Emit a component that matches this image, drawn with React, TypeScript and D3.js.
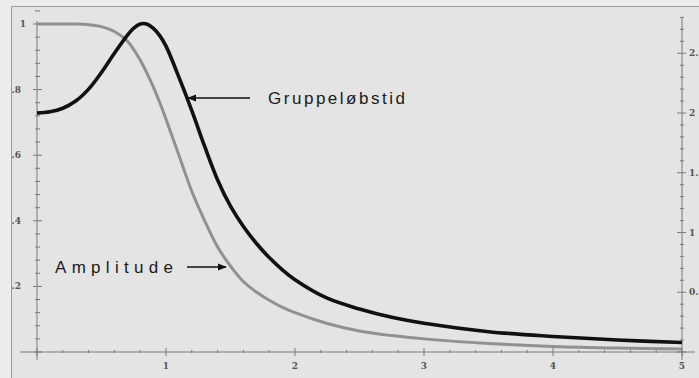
import * as d3 from "d3";

const W = 699;
const H = 378;

// frequency samples (x axis, normalized)
const freq = [0, 0.1, 0.2, 0.3, 0.4, 0.5, 0.6, 0.7, 0.75, 0.8, 0.85, 0.9, 0.95, 1.0, 1.1, 1.2, 1.3, 1.4, 1.5, 1.6, 1.7, 1.8, 1.9, 2.0, 2.25, 2.5, 2.75, 3.0, 3.5, 4.0, 4.5, 5.0];
// amplitude, left axis
const amplitude = [1.0, 1.0, 1.0, 1.0, 0.998, 0.992, 0.977, 0.948, 0.922, 0.89, 0.852, 0.81, 0.762, 0.71, 0.6, 0.49, 0.4, 0.32, 0.262, 0.215, 0.183, 0.158, 0.137, 0.12, 0.087, 0.064, 0.05, 0.04, 0.026, 0.017, 0.012, 0.009];
// group delay, right axis
const groupDelay = [2.0, 2.01, 2.04, 2.1, 2.2, 2.34, 2.5, 2.65, 2.71, 2.745, 2.745, 2.71, 2.65, 2.56, 2.3, 2.02, 1.72, 1.44, 1.22, 1.05, 0.91, 0.79, 0.69, 0.605, 0.45, 0.36, 0.29, 0.24, 0.17, 0.13, 0.1, 0.08];

const xTicks = [1, 2, 3, 4, 5];
const leftTicks = [0.2, 0.4, 0.6, 0.8, 1];
const rightTicks = [0.5, 1, 1.5, 2, 2.5];

const labelAmp = "Amplitude";
const labelDelay = "Gruppeløbstid";

export default function App() {
  const x = d3.scaleLinear().domain([0, 5]).range([37, 682]);
  const yL = d3.scaleLinear().domain([0, 1]).range([352, 24]);
  const yR = d3.scaleLinear().domain([0, 2.8]).range([352, 352 - 2.8 * 119.5]);

  const pts = freq.map((f, i) => ({ f, a: amplitude[i], g: groupDelay[i] }));
  const ampLine = d3
    .line<any>()
    .x((d) => x(d.f))
    .y((d) => yL(d.a))
    .curve(d3.curveCatmullRom.alpha(0.5));
  const delayLine = d3
    .line<any>()
    .x((d) => x(d.f))
    .y((d) => yR(d.g))
    .curve(d3.curveCatmullRom.alpha(0.5));

  const xMinor = d3.range(0, 5.001, 0.2);
  const lMinor = d3.range(0, 1.041, 0.04);
  const rMinor = d3.range(0, 2.81, 0.1);
  const axisCol = "#7a7a7a";
  const tickFont = { fontFamily: "DejaVu Serif", fontSize: 9, fontWeight: "bold", fill: "#555" };
  const isInt = (v: number) => Math.abs(v - Math.round(v)) < 1e-6;

  return (
    <svg width={W} height={H} style={{ position: "absolute", left: 0, top: 0 }}>
      <defs>
        <clipPath id="frame">
          <rect x={12} y={7} width={W - 12} height={H - 7} />
        </clipPath>
        <marker id="arr" viewBox="0 0 10 10" refX="9" refY="5" markerWidth="9" markerHeight="9" orient="auto-start-reverse" markerUnits="userSpaceOnUse">
          <path d="M0,1 L10,5 L0,9 Z" fill="#111" />
        </marker>
      </defs>
      <rect x={0} y={0} width={W} height={H} fill="#ececec" />
      <rect x={11.5} y={6.5} width={W} height={H} fill="#e4e4e4" stroke="#9a9a9a" strokeWidth={1} />
      <g clipPath="url(#frame)">
        {/* x axis */}
        <line x1={20} x2={695} y1={352} y2={352} stroke={axisCol} strokeWidth={1} />
        {xMinor.map((v, i) => (
          <line key={"xm" + i} x1={x(v)} x2={x(v)} y1={isInt(v) ? 348 : 350} y2={isInt(v) ? 356 : 353} stroke={axisCol} strokeWidth={1} />
        ))}
        {xTicks.map((v) => (
          <text key={"xt" + v} x={x(v)} y={369} textAnchor="middle" {...tickFont}>
            {v}
          </text>
        ))}
        {/* left axis */}
        <line x1={37} x2={37} y1={21} y2={360} stroke={axisCol} strokeWidth={1} />
        {lMinor.map((v, i) => {
          const major = isInt(v * 5);
          return <line key={"lm" + i} x1={major ? 33 : 35} x2={major ? 42 : 40} y1={yL(v)} y2={yL(v)} stroke={axisCol} strokeWidth={1} />;
        })}
        {leftTicks.map((v) => (
          <text key={"lt" + v} x={v === 1 ? 26 : 21} y={yL(v) + 3} textAnchor="end" {...tickFont}>
            {v === 1 ? "1" : d3.format(".1f")(v)}
          </text>
        ))}
        {/* right axis */}
        <line x1={682} x2={682} y1={18} y2={360} stroke={axisCol} strokeWidth={1} />
        {rMinor.map((v, i) => {
          const major = isInt(v * 2);
          return <line key={"rm" + i} x1={major ? 677 : 680} x2={major ? 686 : 684} y1={yR(v)} y2={yR(v)} stroke={axisCol} strokeWidth={1} />;
        })}
        {rightTicks.map((v) => (
          <text key={"rt" + v} x={689} y={yR(v) + 3} textAnchor="start" {...tickFont}>
            {Number.isInteger(v) ? String(v) : d3.format(".1f")(v)}
          </text>
        ))}
        {/* curves */}
        <path d={ampLine(pts) || ""} fill="none" stroke="#8c8c8c" strokeWidth={3} opacity={0.95} />
        <path d={delayLine(pts) || ""} fill="none" stroke="#111" strokeWidth={3.6} />
        {/* annotations */}
        <line x1={250} x2={188} y1={98} y2={98} stroke="#111" strokeWidth={1.6} markerEnd="url(#arr)" />
        <text x={268} y={104} textLength={137} lengthAdjust="spacing" fontFamily="Liberation Sans" fontSize={17} fill="#1a1a1a">
          {labelDelay}
        </text>
        <text x={55} y={273} textLength={118} lengthAdjust="spacing" fontFamily="Liberation Sans" fontSize={17} fill="#1a1a1a">
          {labelAmp}
        </text>
        <line x1={187} x2={226} y1={267} y2={267} stroke="#111" strokeWidth={1.6} markerEnd="url(#arr)" />
      </g>
    </svg>
  );
}
